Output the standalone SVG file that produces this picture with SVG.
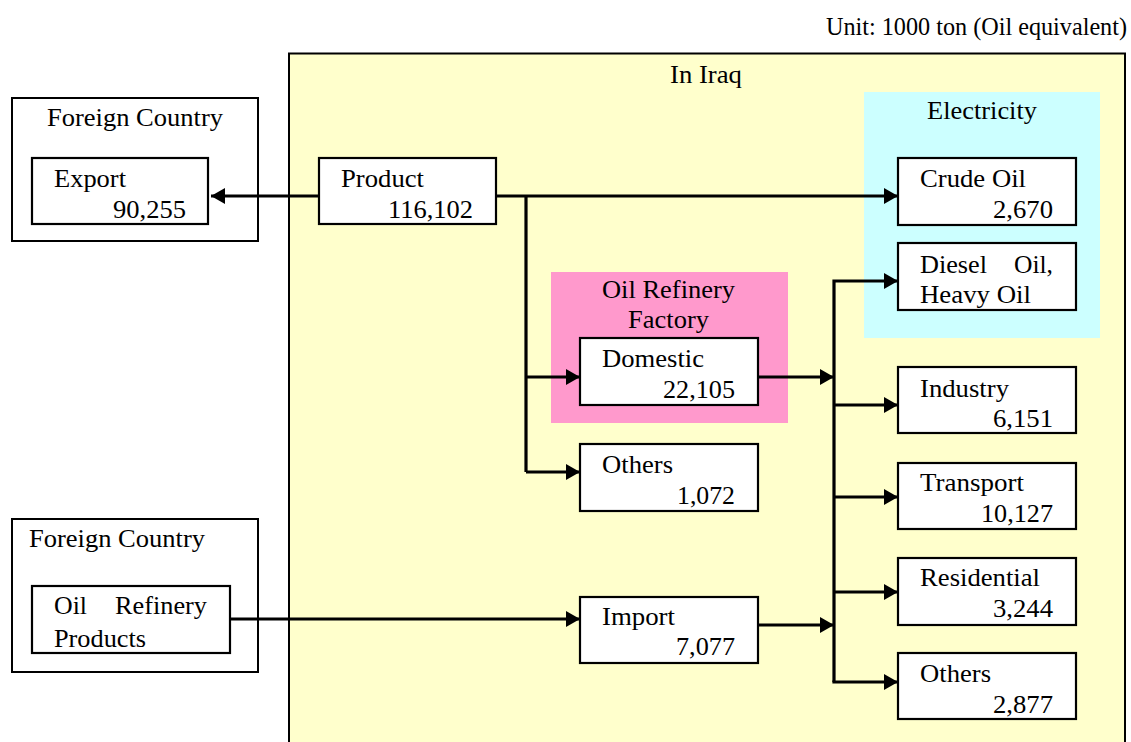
<svg xmlns="http://www.w3.org/2000/svg" width="1131" height="742" viewBox="0 0 1131 742">
<style>
text{font-family:"Liberation Serif","Times New Roman",serif;font-size:24.5px;fill:#000}
.box{fill:#fff;stroke:#000;stroke-width:2.2}
.frame{fill:#fff;stroke:#000;stroke-width:2}
.ln{fill:none;stroke:#000;stroke-width:3.2}
.r{text-anchor:end}
</style>
<defs>
<marker id="ah" markerUnits="userSpaceOnUse" markerWidth="15" markerHeight="16" refX="14" refY="8" orient="auto">
<path d="M0,0 L14,8 L0,16 Z" fill="#000"/>
</marker>
</defs>
<rect width="1131" height="742" fill="#fff"/>
<text x="1127" y="35" class="r" textLength="301" lengthAdjust="spacingAndGlyphs">Unit: 1000 ton (Oil equivalent)</text>

<g id="iraq">
<rect x="289" y="53.5" width="836" height="720" fill="#ffffcc" stroke="#000" stroke-width="2"/>
<text x="670" y="83" textLength="72" lengthAdjust="spacingAndGlyphs">In Iraq</text>
</g>
<g id="electricity">
<rect x="864" y="92" width="236" height="246" fill="#ccffff"/>
<text x="927" y="119" textLength="110" lengthAdjust="spacingAndGlyphs">Electricity</text>
</g>
<g id="refinery">
<rect x="551" y="272" width="237" height="151" fill="#ff99cc"/>
<text x="602" y="298" textLength="133" lengthAdjust="spacingAndGlyphs">Oil Refinery</text>
<text x="628" y="328" textLength="81" lengthAdjust="spacingAndGlyphs">Factory</text>
</g>
<g id="foreign1">
<rect class="frame" x="12" y="98" width="246" height="143"/>
<text x="47" y="126" textLength="176" lengthAdjust="spacingAndGlyphs">Foreign Country</text>
</g>
<g id="foreign2">
<rect class="frame" x="12" y="519" width="246" height="153"/>
<text x="29" y="547" textLength="176" lengthAdjust="spacingAndGlyphs">Foreign Country</text>
</g>

<g id="connectors">
<path class="ln" d="M319,196 H211" marker-end="url(#ah)"/>
<path class="ln" d="M496,196 H898" marker-end="url(#ah)"/>
<path class="ln" d="M526,196 V472"/>
<path class="ln" d="M526,377 H580" marker-end="url(#ah)"/>
<path class="ln" d="M526,472 H580" marker-end="url(#ah)"/>
<path class="ln" d="M230,619 H580" marker-end="url(#ah)"/>
<path class="ln" d="M758,377 H834" marker-end="url(#ah)"/>
<path class="ln" d="M758,625 H834" marker-end="url(#ah)"/>
<path class="ln" d="M834,682 V281 H898" marker-end="url(#ah)"/>
<path class="ln" d="M834,405 H898" marker-end="url(#ah)"/>
<path class="ln" d="M834,497 H898" marker-end="url(#ah)"/>
<path class="ln" d="M834,592 H898" marker-end="url(#ah)"/>
<path class="ln" d="M832.4,682 H898" marker-end="url(#ah)"/>
</g>

<g id="export">
<rect class="box" x="32" y="158" width="176" height="66"/>
<text x="54" y="187" textLength="72" lengthAdjust="spacingAndGlyphs">Export</text>
<text x="186" y="218" class="r" textLength="73" lengthAdjust="spacingAndGlyphs">90,255</text>
</g>
<g id="product">
<rect class="box" x="319" y="158" width="177" height="66"/>
<text x="341" y="187" textLength="83" lengthAdjust="spacingAndGlyphs">Product</text>
<text x="473" y="218" class="r" textLength="85" lengthAdjust="spacingAndGlyphs">116,102</text>
</g>
<g id="crude">
<rect class="box" x="898" y="158" width="178" height="67"/>
<text x="920" y="187" textLength="106" lengthAdjust="spacingAndGlyphs">Crude Oil</text>
<text x="1053" y="218" class="r" textLength="60" lengthAdjust="spacingAndGlyphs">2,670</text>
</g>
<g id="diesel">
<rect class="box" x="898" y="243" width="178" height="67"/>
<text x="920" y="273" textLength="67" lengthAdjust="spacingAndGlyphs">Diesel</text>
<text x="1053" y="273" class="r" textLength="39" lengthAdjust="spacingAndGlyphs">Oil,</text>
<text x="920" y="303" textLength="111" lengthAdjust="spacingAndGlyphs">Heavy Oil</text>
</g>
<g id="domestic">
<rect class="box" x="580" y="338" width="178" height="67"/>
<text x="602" y="367" textLength="102" lengthAdjust="spacingAndGlyphs">Domestic</text>
<text x="735" y="398" class="r" textLength="72" lengthAdjust="spacingAndGlyphs">22,105</text>
</g>
<g id="others1">
<rect class="box" x="580" y="444" width="178" height="67"/>
<text x="602" y="473" textLength="71" lengthAdjust="spacingAndGlyphs">Others</text>
<text x="735" y="504" class="r" textLength="58" lengthAdjust="spacingAndGlyphs">1,072</text>
</g>
<g id="import">
<rect class="box" x="580" y="597" width="178" height="66"/>
<text x="602" y="625" textLength="73" lengthAdjust="spacingAndGlyphs">Import</text>
<text x="735" y="655" class="r" textLength="59" lengthAdjust="spacingAndGlyphs">7,077</text>
</g>
<g id="oilproducts">
<rect class="box" x="32" y="586" width="198" height="67"/>
<text x="54" y="614" textLength="33" lengthAdjust="spacingAndGlyphs">Oil</text>
<text x="207" y="614" class="r" textLength="92" lengthAdjust="spacingAndGlyphs">Refinery</text>
<text x="54" y="647" textLength="92" lengthAdjust="spacingAndGlyphs">Products</text>
</g>
<g id="industry">
<rect class="box" x="898" y="367" width="178" height="66"/>
<text x="920" y="397" textLength="89" lengthAdjust="spacingAndGlyphs">Industry</text>
<text x="1053" y="427" class="r" textLength="60" lengthAdjust="spacingAndGlyphs">6,151</text>
</g>
<g id="transport">
<rect class="box" x="898" y="463" width="178" height="66"/>
<text x="920" y="491" textLength="104" lengthAdjust="spacingAndGlyphs">Transport</text>
<text x="1053" y="522" class="r" textLength="72" lengthAdjust="spacingAndGlyphs">10,127</text>
</g>
<g id="residential">
<rect class="box" x="898" y="558" width="178" height="67"/>
<text x="920" y="586" textLength="120" lengthAdjust="spacingAndGlyphs">Residential</text>
<text x="1053" y="617" class="r" textLength="60" lengthAdjust="spacingAndGlyphs">3,244</text>
</g>
<g id="others2">
<rect class="box" x="898" y="653" width="178" height="66"/>
<text x="920" y="682" textLength="71" lengthAdjust="spacingAndGlyphs">Others</text>
<text x="1053" y="713" class="r" textLength="60" lengthAdjust="spacingAndGlyphs">2,877</text>
</g>
</svg>
